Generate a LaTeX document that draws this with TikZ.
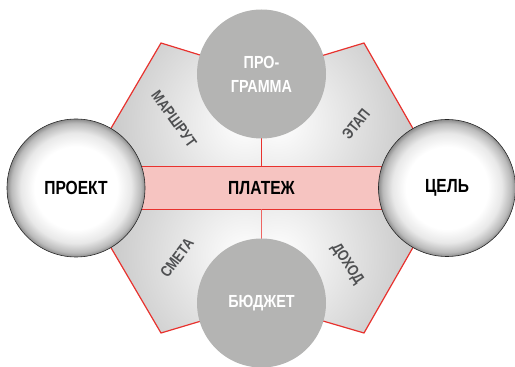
\documentclass[tikz,border=0pt]{standalone}
\usepackage{fontspec}
\newfontfamily\cond[FakeStretch=0.82]{Liberation Sans}
\definecolor{lred}{HTML}{E8322E}
\definecolor{lpink}{HTML}{F6C4C1}
\definecolor{lgray}{HTML}{B4B4B3}
\definecolor{ltext}{HTML}{4F5052}
\pgfdeclareradialshading{sphere}{\pgfpoint{0bp}{0bp}}{color(0bp)=(white); color(15bp)=(white); color(20bp)=(black!9); color(23.5bp)=(black!27); color(25bp)=(black!45); color(50bp)=(black!45)}
\begin{document}
\begin{tikzpicture}[x=1pt,y=1pt,
  ball/.style={circle, draw=black!85, line width=0.6pt, shading=sphere, minimum size=#1, inner sep=0pt, font=\cond\bfseries\fontsize{19}{20}\selectfont},
  disc/.style={circle, fill=lgray, minimum size=129pt, inner sep=0pt, text=white, align=center, font=\cond\bfseries\fontsize{17.5}{24}\selectfont},
  lab/.style={text=ltext, inner sep=0pt, font=\cond\bfseries\fontsize{15.5}{15.5}\selectfont},
  redl/.style={draw=lred, line width=1.2pt},
  quad/.style={inner color=white, outer color=black!46}]
\useasboundingbox (0,0) rectangle (515,367);
\coordinate (P) at (76,179);
\coordinate (TL) at (161,324);
\coordinate (G) at (261.5,293);
\coordinate (TR) at (364,324);
\coordinate (C) at (447,179);
\coordinate (BR) at (364,34);
\coordinate (B) at (261.5,64);
\coordinate (BL) at (161,34);
\coordinate (M) at (261.5,179);
% quadrant shadings
\begin{scope}
\clip (P) -- (TL) -- (G) -- (M) -- cycle;
\shade[quad] (245,245) circle (300);
\end{scope}
\begin{scope}
\clip (C) -- (TR) -- (G) -- (M) -- cycle;
\shade[quad] (278,245) circle (300);
\end{scope}
\begin{scope}
\clip (P) -- (BL) -- (B) -- (M) -- cycle;
\shade[quad] (245,112) circle (300);
\end{scope}
\begin{scope}
\clip (C) -- (BR) -- (B) -- (M) -- cycle;
\shade[quad] (278,112) circle (300);
\end{scope}
\draw[redl, line join=miter] (P) -- (TL) -- (G) -- (TR) -- (C) -- (BR) -- (B) -- (BL) -- cycle;
% band
\node[fill=lpink, minimum width=243pt, minimum height=42pt, inner sep=0pt,
  font=\cond\bfseries\fontsize{19}{20}\selectfont] (band) at (M) {ПЛАТЕЖ};
\draw[redl] (band.north west) -- (band.north east);
\draw[redl] (band.south west) -- (band.south east);
\draw[redl] (G) -- (band.north);
\draw[draw=lred!75, line width=1.2pt] (B) -- (band.south);
% circles
\node[disc] (prog) at (G) {ПРО-\\ГРАММА};
\node[disc] (budg) at (B) {БЮДЖЕТ};
\node[ball=138pt] (proj) at (P) {ПРОЕКТ};
\node[ball=137pt] (goal) at (C) {ЦЕЛЬ};
% labels
\node[lab, rotate=-54] (l1) at (174,248) {МАРШРУТ};
\node[lab, rotate=51] (l2) at (356,243) {ЭТАП};
\node[lab, rotate=53] (l3) at (177,109) {СМЕТА};
\node[lab, rotate=-56] (l4) at (347,103) {ДОХОД};
\end{tikzpicture}
\end{document}
